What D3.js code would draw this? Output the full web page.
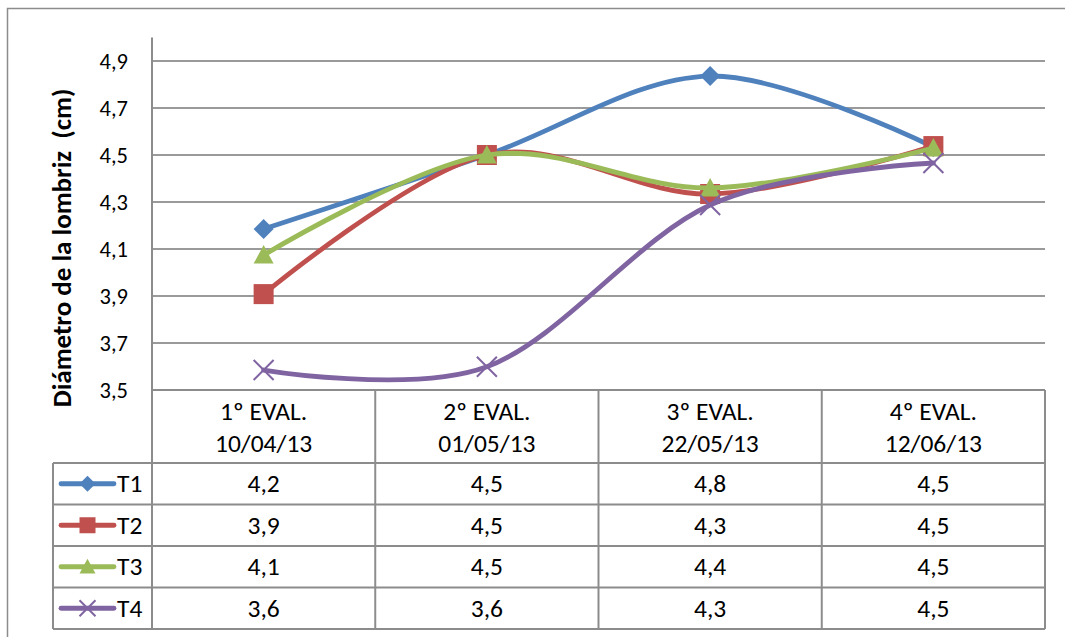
<!DOCTYPE html>
<html>
<head>
<meta charset="utf-8">
<script src="https://cdn.jsdelivr.net/npm/d3@7/dist/d3.min.js"></script>
<style>
  html, body { margin: 0; padding: 0; background: #fff; }
  svg { display: block; font-family: Carlito, Lato, "Liberation Sans", sans-serif; }
  text { white-space: pre; }
</style>
</head>
<body>
<svg id="chart" width="1065" height="637"></svg>
<script>
// Evaluation dates (two-line category labels)
const categories = ["1º EVAL.\n10/04/13", "2º EVAL.\n01/05/13", "3º EVAL.\n22/05/13", "4º EVAL.\n12/06/13"];
const seriesNames = ["T1", "T2", "T3", "T4"];
// Mean earthworm diameter (cm) per treatment and evaluation
const t1 = [4.185, 4.50, 4.836, 4.534];
const t2 = [3.908, 4.50, 4.334, 4.538];
const t3 = [4.074, 4.50, 4.36, 4.53];
const t4 = [3.585, 3.599, 4.287, 4.466];
const yTicks = [3.5, 3.7, 3.9, 4.1, 4.3, 4.5, 4.7, 4.9];
const yTitle = "Diámetro de la lombriz  (cm)";

const seriesValues = [t1, t2, t3, t4];
const colors = ["#4F81BD", "#C0504D", "#9BBB59", "#8064A2"];
const markers = ["diamond", "square", "triangle", "cross"];

const svg = d3.select("#chart");
const locale = d3.formatLocale({ decimal: ",", thousands: ".", grouping: [3], currency: ["", "€"] });
const fmt = locale.format(".1f");

const gridColor = "#9a9a9a";
const lineColor = "#8c8c8c";
const tableFont = 25.5;

// Outer chart frame (runs off the right and bottom edges)
svg.append("rect").attr("x", 7.5).attr("y", 8.5).attr("width", 1100).attr("height", 700)
  .attr("fill", "none").attr("stroke", lineColor).attr("stroke-width", 1.5);

const plotLeft = 152, plotRight = 1045, plotTop = 37.5, plotBottom = 390, tableBottom = 629, keyLeft = 53;

const x = d3.scaleBand().domain(categories).range([plotLeft, plotRight]);
const y = d3.scaleLinear().domain([3.5, 5.0]).range([plotBottom, plotTop]);
const rows = d3.scaleBand().domain(seriesNames).range([463, tableBottom]);

// Horizontal gridlines
svg.append("g").selectAll("line").data(yTicks.filter(d => d > 3.5)).join("line")
  .attr("x1", plotLeft).attr("x2", plotRight)
  .attr("y1", d => y(d)).attr("y2", d => y(d))
  .attr("stroke", gridColor).attr("stroke-width", 2);

// Y axis built from the scale; domain path and tick marks are hidden
const yAxis = svg.append("g").attr("transform", `translate(${plotLeft},0)`)
  .call(d3.axisLeft(y).tickValues(yTicks).tickFormat(fmt).tickSize(0).tickPadding(24));
yAxis.select(".domain").remove();
yAxis.selectAll("text").attr("font-size", 22.5).attr("fill", "#000")
  .attr("font-family", "Carlito, Lato, sans-serif");

// Axis title
svg.append("text")
  .attr("transform", `translate(61,248) rotate(-90)`)
  .attr("text-anchor", "middle").attr("dominant-baseline", "central")
  .attr("font-size", 27).attr("font-weight", "bold").attr("fill", "#000")
  .text(yTitle);

// Data table grid
const tbl = svg.append("g").attr("stroke", lineColor).attr("stroke-width", 2).attr("fill", "none");
tbl.append("line").attr("x1", plotLeft).attr("x2", plotRight).attr("y1", plotBottom).attr("y2", plotBottom);
seriesNames.forEach(s => {
  tbl.append("line").attr("x1", keyLeft).attr("x2", plotRight).attr("y1", rows(s)).attr("y2", rows(s));
});
tbl.append("line").attr("x1", keyLeft).attr("x2", plotRight).attr("y1", tableBottom).attr("y2", tableBottom);
tbl.append("line").attr("x1", keyLeft).attr("x2", keyLeft).attr("y1", rows(seriesNames[0])).attr("y2", tableBottom);
tbl.append("line").attr("x1", plotLeft).attr("x2", plotLeft).attr("y1", plotTop).attr("y2", tableBottom);
categories.forEach(c => {
  const xr = x(c) + x.bandwidth();
  tbl.append("line").attr("x1", xr).attr("x2", xr).attr("y1", plotBottom).attr("y2", tableBottom);
});

// Category headers
categories.forEach(c => {
  const parts = c.split("\n");
  const cx = x(c) + x.bandwidth() / 2;
  parts.forEach((p, i) => {
    svg.append("text").attr("x", cx).attr("y", 411 + i * 32)
      .attr("text-anchor", "middle").attr("dominant-baseline", "central")
      .attr("font-size", tableFont).attr("fill", "#000").text(p);
  });
});

// Marker drawing
function drawMarker(g, type, cx, cy, size, color) {
  const h = size / 2;
  if (type === "diamond") {
    g.append("path").attr("d", `M${cx},${cy - h}L${cx + h},${cy}L${cx},${cy + h}L${cx - h},${cy}Z`)
      .attr("fill", color);
  } else if (type === "square") {
    g.append("rect").attr("x", cx - h).attr("y", cy - h).attr("width", size).attr("height", size)
      .attr("fill", color);
  } else if (type === "triangle") {
    g.append("path").attr("d", `M${cx},${cy - h}L${cx + h},${cy + h * 0.85}L${cx - h},${cy + h * 0.85}Z`)
      .attr("fill", color);
  } else {
    g.append("path").attr("d", `M${cx - h},${cy - h}L${cx + h},${cy + h}M${cx - h},${cy + h}L${cx + h},${cy - h}`)
      .attr("stroke", color).attr("stroke-width", 2).attr("fill", "none");
  }
}

// Smoothed series lines with markers
const line = d3.line()
  .x((d, i) => x(categories[i]) + x.bandwidth() / 2)
  .y(d => y(d))
  .curve(d3.curveCardinal.tension(0));

seriesValues.forEach((vals, si) => {
  const g = svg.append("g");
  g.append("path").attr("d", line(vals)).attr("fill", "none")
    .attr("stroke", colors[si]).attr("stroke-width", 4.8).attr("stroke-linecap", "round");
  vals.forEach((v, i) => {
    drawMarker(g, markers[si], x(categories[i]) + x.bandwidth() / 2, y(v), 20, colors[si]);
  });
});

// Table rows: legend key, series name and values
seriesNames.forEach((s, si) => {
  const cy = rows(s) + rows.bandwidth() / 2;
  const g = svg.append("g");
  g.append("line").attr("x1", 61).attr("x2", 114).attr("y1", cy).attr("y2", cy)
    .attr("stroke", colors[si]).attr("stroke-width", 4.8).attr("stroke-linecap", "round");
  drawMarker(g, markers[si], 87.5, cy, 16, colors[si]);
  g.append("text").attr("x", 117).attr("y", cy).attr("dominant-baseline", "central")
    .attr("font-size", tableFont).attr("fill", "#000").text(s);
  seriesValues[si].forEach((v, i) => {
    g.append("text").attr("x", x(categories[i]) + x.bandwidth() / 2).attr("y", cy)
      .attr("text-anchor", "middle").attr("dominant-baseline", "central")
      .attr("font-size", tableFont).attr("fill", "#000").text(fmt(v));
  });
});
</script>
</body>
</html>
